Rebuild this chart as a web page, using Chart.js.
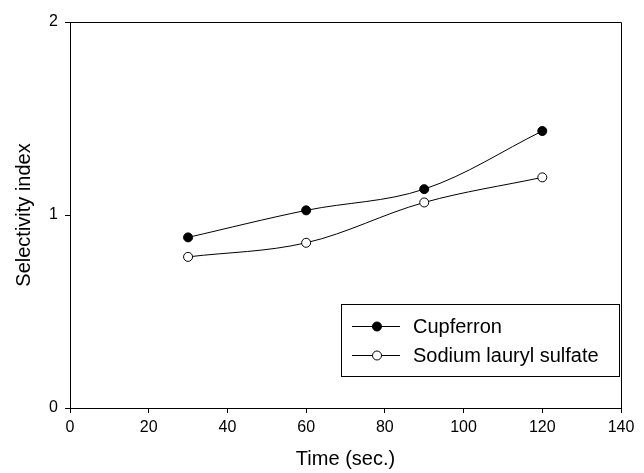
<!DOCTYPE html>
<html>
<head>
<meta charset="utf-8">
<script src="https://cdn.jsdelivr.net/npm/chart.js@4.4.1/dist/chart.umd.min.js"></script>
<style>
html,body{margin:0;padding:0;background:#fff;}
#wrap{width:644px;height:473px;}
</style>
</head>
<body>
<div id="wrap"><canvas id="c" width="644" height="473"></canvas></div>
<script>
const times = [30, 60, 90, 120];
const cupferron = [0.884, 1.024, 1.134, 1.435];
const sodiumLaurylSulfate = [0.783, 0.856, 1.065, 1.195];
const seriesNames = ["Cupferron", "Sodium lauryl sulfate"];
const xTicks = [0, 20, 40, 60, 80, 100, 120, 140];
const yTicks = [0, 1, 2];
const xTitle = "Time (sec.)";
const yTitle = "Selectivity index";

const FONT = "'Liberation Sans', Arial, Helvetica, sans-serif";

const frame = {
  id: 'frame',
  afterDraw(chart) {
    const {ctx, chartArea: a} = chart;
    ctx.save();
    ctx.strokeStyle = '#000';
    ctx.lineWidth = 1;
    ctx.beginPath();
    ctx.moveTo(Math.round(a.left) + 0.5, Math.round(a.top) + 0.5);
    ctx.lineTo(Math.round(a.right) + 0.5, Math.round(a.top) + 0.5);
    ctx.lineTo(Math.round(a.right) + 0.5, Math.round(a.bottom) + 0.5);
    ctx.stroke();
    ctx.restore();
  }
};

const legendBox = {
  id: 'legendBox',
  afterDraw(chart) {
    const {ctx} = chart;
    const bx = 341.5, by = 304.5, bw = 278, bh = 72;
    ctx.save();
    ctx.fillStyle = '#fff';
    ctx.fillRect(bx, by, bw, bh);
    ctx.strokeStyle = '#000';
    ctx.lineWidth = 1;
    ctx.strokeRect(bx, by, bw, bh);
    const rows = [326, 355];
    chart.data.datasets.forEach((ds, i) => {
      const y = rows[i] + 0.5;
      ctx.beginPath();
      ctx.moveTo(352, y);
      ctx.lineTo(400, y);
      ctx.strokeStyle = '#000';
      ctx.lineWidth = 1;
      ctx.stroke();
      ctx.beginPath();
      ctx.arc(377, y, 4.5, 0, Math.PI * 2);
      ctx.fillStyle = ds.pointBackgroundColor;
      ctx.fill();
      ctx.stroke();
      ctx.fillStyle = '#000';
      ctx.font = '20px ' + FONT;
      ctx.textBaseline = 'middle';
      ctx.textAlign = 'left';
      ctx.fillText(ds.label, 413, y + 1);
    });
    ctx.restore();
  }
};

new Chart(document.getElementById('c'), {
  type: 'line',
  data: {
    datasets: [
      {
        label: seriesNames[0],
        data: times.map((t, i) => ({x: t, y: cupferron[i]})),
        borderColor: '#000',
        borderWidth: 1,
        pointRadius: 4.5,
        pointBorderWidth: 1,
        pointBackgroundColor: '#000',
        pointBorderColor: '#000',
        tension: 0.35,
        fill: false
      },
      {
        label: seriesNames[1],
        data: times.map((t, i) => ({x: t, y: sodiumLaurylSulfate[i]})),
        borderColor: '#000',
        borderWidth: 1,
        pointRadius: 4.5,
        pointBorderWidth: 1,
        pointBackgroundColor: '#fff',
        pointBorderColor: '#000',
        tension: 0.35,
        fill: false
      }
    ]
  },
  options: {
    responsive: false,
    animation: false,
    devicePixelRatio: 1,
    layout: {padding: {top: 22, right: 23, left: 0, bottom: 0}},
    plugins: {
      legend: {display: false},
      tooltip: {enabled: false}
    },
    scales: {
      x: {
        type: 'linear',
        min: 0, max: 140,
        afterBuildTicks(s) { s.ticks = xTicks.map(v => ({value: v})); },
        afterFit(s) { s.height = 65; },
        border: {display: true, color: '#000', width: 1},
        grid: {drawOnChartArea: false, drawTicks: true, tickLength: 5, color: '#000', tickColor: '#000'},
        ticks: {color: '#000', font: {family: FONT, size: 16}, padding: 5, maxRotation: 0},
        title: {display: true, text: xTitle, color: '#000', font: {family: FONT, size: 20}, padding: {top: 0, bottom: 2}}
      },
      y: {
        type: 'linear',
        min: 0, max: 2,
        afterBuildTicks(s) { s.ticks = yTicks.map(v => ({value: v})); },
        afterFit(s) { s.width = 70; },
        border: {display: true, color: '#000', width: 1},
        grid: {drawOnChartArea: false, drawTicks: true, tickLength: 5, color: '#000', tickColor: '#000'},
        ticks: {color: '#000', font: {family: FONT, size: 16}, padding: 7},
        title: {display: true, text: yTitle, color: '#000', font: {family: FONT, size: 20}, padding: {top: 12, bottom: 0}}
      }
    }
  },
  plugins: [frame, legendBox]
});
</script>
</body>
</html>
